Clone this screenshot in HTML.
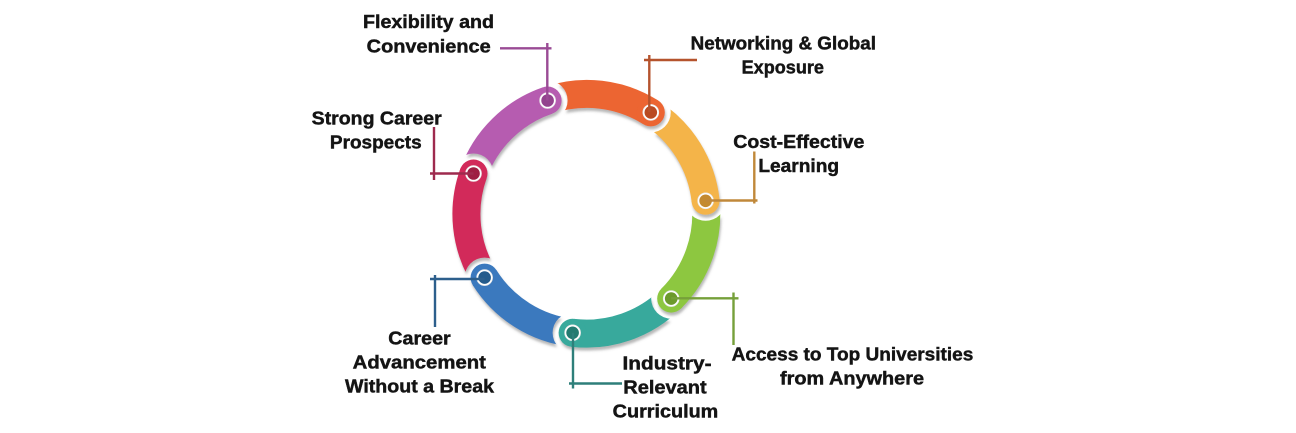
<!DOCTYPE html>
<html>
<head>
<meta charset="utf-8">
<style>
  html,body{margin:0;padding:0;background:#fff;}
  svg{display:block;}
  text{font-family:"Liberation Sans",Arial,sans-serif;font-weight:bold;font-size:18.5px;fill:#141414;stroke:#141414;stroke-width:0.45px;}
</style>
</head>
<body>
<svg width="1296" height="433" viewBox="0 0 1296 433" xmlns="http://www.w3.org/2000/svg">
  <defs>
    <filter id="sh" x="-20%" y="-20%" width="140%" height="150%">
      <feDropShadow dx="1" dy="3" stdDeviation="1.2" flood-color="#6f6f6f" flood-opacity="0.5"/>
    </filter>
    <mask id="mPurple" maskUnits="userSpaceOnUse" x="0" y="0" width="1296" height="433">
      <rect x="0" y="0" width="1296" height="433" fill="#fff"/>
      <circle cx="473.5" cy="173.5" r="20" fill="#000"/>
    </mask>
    <mask id="mOrange" maskUnits="userSpaceOnUse" x="0" y="0" width="1296" height="433">
      <rect x="0" y="0" width="1296" height="433" fill="#fff"/>
      <circle cx="547.6" cy="100.5" r="20" fill="#000"/>
    </mask>
    <mask id="mYellow" maskUnits="userSpaceOnUse" x="0" y="0" width="1296" height="433">
      <rect x="0" y="0" width="1296" height="433" fill="#fff"/>
      <circle cx="650.8" cy="112.4" r="20" fill="#000"/>
    </mask>
    <mask id="mGreen" maskUnits="userSpaceOnUse" x="0" y="0" width="1296" height="433">
      <rect x="0" y="0" width="1296" height="433" fill="#fff"/>
      <circle cx="705.6" cy="200.8" r="20" fill="#000"/>
    </mask>
    <mask id="mTeal" maskUnits="userSpaceOnUse" x="0" y="0" width="1296" height="433">
      <rect x="0" y="0" width="1296" height="433" fill="#fff"/>
      <circle cx="671.2" cy="298.6" r="20" fill="#000"/>
    </mask>
    <mask id="mBlue" maskUnits="userSpaceOnUse" x="0" y="0" width="1296" height="433">
      <rect x="0" y="0" width="1296" height="433" fill="#fff"/>
      <circle cx="572.6" cy="332.8" r="20" fill="#000"/>
    </mask>
    <mask id="mRed" maskUnits="userSpaceOnUse" x="0" y="0" width="1296" height="433">
      <rect x="0" y="0" width="1296" height="433" fill="#fff"/>
      <circle cx="484.6" cy="277.6" r="20" fill="#000"/>
    </mask>
  </defs>

  <!-- Ring segments -->
  <g filter="url(#sh)">
    <g mask="url(#mPurple)">
      <path d="M473.5,173.5 A120,120 0 0 1 547.6,100.5" stroke="#b65bb0" stroke-width="28" fill="none"/>
      <circle cx="547.6" cy="100.5" r="14" fill="#b65bb0"/>
    </g>
    <g mask="url(#mOrange)">
      <path d="M547.6,100.5 A120,120 0 0 1 650.8,112.4" stroke="#ec6530" stroke-width="28" fill="none"/>
      <circle cx="650.8" cy="112.4" r="14" fill="#ec6530"/>
    </g>
    <g mask="url(#mYellow)">
      <path d="M650.8,112.4 A120,120 0 0 1 705.6,200.8" stroke="#f4b448" stroke-width="28" fill="none"/>
      <circle cx="705.6" cy="200.8" r="14" fill="#f4b448"/>
    </g>
    <g mask="url(#mGreen)">
      <path d="M705.6,200.8 A120,120 0 0 1 671.2,298.6" stroke="#8dc740" stroke-width="28" fill="none"/>
      <circle cx="671.2" cy="298.6" r="14" fill="#8dc740"/>
    </g>
    <g mask="url(#mTeal)">
      <path d="M671.2,298.6 A120,120 0 0 1 572.6,332.8" stroke="#37a99c" stroke-width="28" fill="none"/>
      <circle cx="572.6" cy="332.8" r="14" fill="#37a99c"/>
    </g>
    <g mask="url(#mBlue)">
      <path d="M572.6,332.8 A120,120 0 0 1 484.6,277.6" stroke="#3a79be" stroke-width="28" fill="none"/>
      <circle cx="484.6" cy="277.6" r="14" fill="#3a79be"/>
    </g>
    <g mask="url(#mRed)">
      <path d="M484.6,277.6 A120,120 0 0 1 473.5,173.5" stroke="#d22a5a" stroke-width="28" fill="none"/>
      <circle cx="473.5" cy="173.5" r="14" fill="#d22a5a"/>
    </g>
  </g>

  <!-- Dots -->
  <g stroke="#e6e6e6" stroke-width="0.6">
    <circle cx="547.6" cy="100.5" r="8" fill="#fff"/>
    <circle cx="650.8" cy="112.4" r="8" fill="#fff"/>
    <circle cx="705.6" cy="200.8" r="8" fill="#fff"/>
    <circle cx="671.2" cy="298.6" r="8" fill="#fff"/>
    <circle cx="572.6" cy="332.8" r="8" fill="#fff"/>
    <circle cx="484.6" cy="277.6" r="8" fill="#fff"/>
    <circle cx="473.5" cy="173.5" r="8" fill="#fff"/>
  </g>
  <circle cx="547.6" cy="100.5" r="6.3" fill="#93438e"/>
  <circle cx="650.8" cy="112.4" r="6.3" fill="#b94a22"/>
  <circle cx="705.6" cy="200.8" r="6.3" fill="#c48a30"/>
  <circle cx="671.2" cy="298.6" r="6.3" fill="#6c9a2c"/>
  <circle cx="572.6" cy="332.8" r="6.3" fill="#237a70"/>
  <circle cx="484.6" cy="277.6" r="6.3" fill="#245b8c"/>
  <circle cx="473.5" cy="173.5" r="6.3" fill="#9e1d42"/>

  <!-- Connectors -->
  <g fill="none" stroke-width="2.4">
    <path d="M547.3,100.5 V43 M500,48.3 H551.5" stroke="#9a4b95"/>
    <path d="M649.3,112 V55 M644,60 H697" stroke="#b5532d"/>
    <path d="M705.6,200.5 H757.5 M754.3,151.5 V203.5" stroke="#c0883a"/>
    <path d="M671.2,298.3 H738.5 M733.5,292.5 V345" stroke="#76a03a"/>
    <path d="M573,332.8 V388.5 M569,383.5 H622" stroke="#2e7f7a"/>
    <path d="M484.6,279 H430 M435,275 V327" stroke="#2d5f8c"/>
    <path d="M473.5,173.5 H430 M434,127 V180" stroke="#9e2a4e"/>
  </g>

  <!-- Labels -->
  <g text-anchor="middle">
    <text x="428.5" y="28" textLength="131" lengthAdjust="spacingAndGlyphs">Flexibility and</text>
    <text x="428.7" y="52.3" textLength="124" lengthAdjust="spacingAndGlyphs">Convenience</text>

    <text x="376.7" y="124.7" textLength="130" lengthAdjust="spacingAndGlyphs">Strong Career</text>
    <text x="375.8" y="148.7" textLength="91.7" lengthAdjust="spacingAndGlyphs">Prospects</text>

    <text x="783.3" y="49.7" textLength="185.3" lengthAdjust="spacingAndGlyphs">Networking &amp; Global</text>
    <text x="782.8" y="73.7" textLength="82.3" lengthAdjust="spacingAndGlyphs">Exposure</text>

    <text x="798.8" y="148" textLength="131" lengthAdjust="spacingAndGlyphs">Cost-Effective</text>
    <text x="798.7" y="172" textLength="80.7" lengthAdjust="spacingAndGlyphs">Learning</text>

    <text x="852.5" y="360.3" textLength="241.6" lengthAdjust="spacingAndGlyphs">Access to Top Universities</text>
    <text x="852" y="384.3" textLength="144" lengthAdjust="spacingAndGlyphs">from Anywhere</text>

    <text x="667" y="369.7" textLength="89" lengthAdjust="spacingAndGlyphs">Industry-</text>
    <text x="665" y="393.7" textLength="83.4" lengthAdjust="spacingAndGlyphs">Relevant</text>
    <text x="665.5" y="417.7" textLength="105.6" lengthAdjust="spacingAndGlyphs">Curriculum</text>

    <text x="419.5" y="344.7" textLength="62.4" lengthAdjust="spacingAndGlyphs">Career</text>
    <text x="419.3" y="368.7" textLength="133.3" lengthAdjust="spacingAndGlyphs">Advancement</text>
    <text x="419.5" y="392.7" textLength="149" lengthAdjust="spacingAndGlyphs">Without a Break</text>
  </g>
</svg>
</body>
</html>
